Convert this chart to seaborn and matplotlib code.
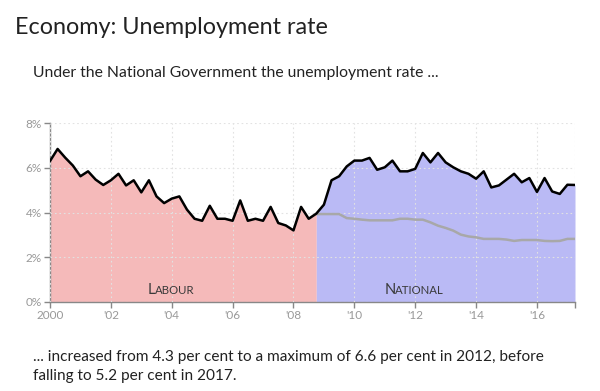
import matplotlib
matplotlib.use('Agg')
import matplotlib.pyplot as plt
import numpy as np
import pandas as pd
import seaborn as sns

# quarterly unemployment rate, 2000 Q1 .. 2017 Q2
quarters = np.arange(2000, 2017.26, 0.25)
labour_rate = [6.3, 6.84, 6.45, 6.1, 5.62, 5.84, 5.47, 5.23, 5.44, 5.73, 5.21, 5.44,
               4.9, 5.44, 4.72, 4.42, 4.62, 4.72, 4.13, 3.72, 3.63, 4.3, 3.72, 3.72,
               3.63, 4.54, 3.63, 3.72, 3.63, 4.25, 3.53, 3.42, 3.2, 4.25, 3.72, 3.95]
national_rate = [4.35, 5.44, 5.62, 6.06, 6.32, 6.32, 6.44, 5.91, 6.02, 6.32, 5.84, 5.84,
                 5.95, 6.66, 6.24, 6.66, 6.24, 6.02, 5.84, 5.73, 5.51, 5.84, 5.12, 5.21,
                 5.47, 5.73, 5.35, 5.54, 4.92, 5.54, 4.94, 4.83, 5.24, 5.23]
# grey reference line during the National years (from 2008 Q4)
grey_rate = [3.93, 3.93, 3.93, 3.93, 3.75, 3.72, 3.68, 3.65, 3.65, 3.65, 3.65, 3.72,
             3.72, 3.68, 3.68, 3.56, 3.41, 3.31, 3.19, 3.01, 2.93, 2.89, 2.82, 2.82,
             2.82, 2.79, 2.73, 2.77, 2.77, 2.77, 2.73, 2.72, 2.73, 2.82, 2.82]

rate = labour_rate + national_rate
df = pd.DataFrame({'year': quarters, 'rate': rate})
df_grey = pd.DataFrame({'year': quarters[35:], 'rate': grey_rate})
split = quarters[35]

sns.set_style('white')
plt.rcParams['font.family'] = ['Lato', 'DejaVu Sans']

fig = plt.figure(figsize=(6, 3.91), dpi=100)
ax = fig.add_axes([50 / 600, 1 - 302 / 391, 525 / 600, 179 / 391])

lab = df[df['year'] <= split]
nat = df[df['year'] >= split]
ax.fill_between(lab['year'], 0, lab['rate'], color='#f5baba', lw=0, zorder=1)
ax.fill_between(nat['year'], 0, nat['rate'], color='#babaf5', lw=0, zorder=1)

sns.lineplot(data=df_grey, x='year', y='rate', ax=ax, color='#a8a8a8', lw=1.8, zorder=3)
sns.lineplot(data=df, x='year', y='rate', ax=ax, color='black', lw=1.8, zorder=4)

ax.set_xlim(2000, 2017.25)
ax.set_ylim(0, 8)
xt = list(range(2000, 2017, 2))
ax.set_xticks(xt + [2017.25])
ax.set_xticklabels(['2000'] + ["'%02d" % (y % 100) for y in xt[1:]] + [''])
ax.set_yticks([0, 2, 4, 6, 8])
ax.set_yticklabels(['0%', '2%', '4%', '6%', '8%'])
ax.set_xlabel('')
ax.set_ylabel('')
ax.grid(True, color='#e2e2e2', ls=(0, (1.5, 2.5)), lw=0.8)
ax.set_axisbelow(False)
for sp in ['top', 'right']:
    ax.spines[sp].set_visible(False)
for sp in ['left', 'bottom']:
    ax.spines[sp].set_color('#888888')
    ax.spines[sp].set_linewidth(1)
ax.tick_params(axis='both', colors='#888888', labelcolor='#999999', labelsize=8.5,
               length=4, width=1, direction='out', pad=2, left=True, bottom=True)

# party labels in small caps style
def small_caps(x, word):
    ax.text(x, 0.35, word[0], fontsize=10.5, color='#3a3a3a', ha='right', va='baseline', zorder=5)
    ax.text(x, 0.35, word[1:].upper(), fontsize=8.2, color='#3a3a3a', ha='left', va='baseline', zorder=5)

small_caps(2003.45, 'Labour')
small_caps(2011.35, 'National')

fig.text(15 / 600, 1 - 28 / 391, 'Economy: Unemployment rate', fontsize=16.8, color='#222222', va='center')
fig.text(33 / 600, 1 - 73 / 391, 'Under the National Government the unemployment rate ...',
         fontsize=11.3, color='#222222', va='center')
fig.text(33 / 600, 1 - 357 / 391,
         '... increased from 4.3 per cent to a maximum of 6.6 per cent in 2012, before',
         fontsize=11.1, color='#222222', va='center')
fig.text(33 / 600, 1 - 376 / 391, 'falling to 5.2 per cent in 2017.',
         fontsize=11.1, color='#222222', va='center')

fig.savefig('out.png', dpi=100)
